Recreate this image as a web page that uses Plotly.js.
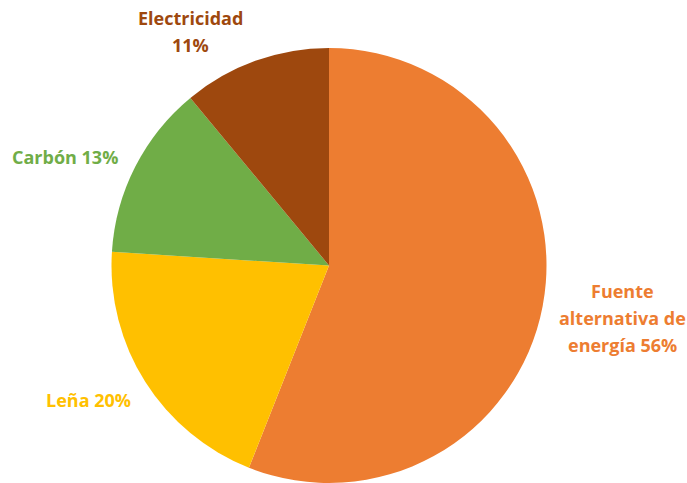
<!DOCTYPE html>
<html>
<head>
<meta charset="utf-8">
<script src="https://cdn.plot.ly/plotly-3.0.1.min.js"></script>
<style>html,body{margin:0;padding:0;background:#fff;}#chart{width:687px;height:483px;}</style>
</head>
<body>
<div id="chart"></div>
<script>
const categories = ["Fuente alternativa de energía", "Leña", "Carbón", "Electricidad"];
const values = [56, 20, 13, 11];
const colors = ["#ED7D31", "#FFC000", "#70AD47", "#9E480E"];
const labelLines = [["Fuente", "alternativa de", "energía 56%"], ["Leña 20%"], ["Carbón 13%"], ["Electricidad", "11%"]];
// label centre (pixels from top-left) of first line, and line spacing
const labelPos = [[622, 291], [88, 400], [65, 157], [190, 18]];
const lineGap = 27;

const W = 687, H = 483;
const cx = 329, cy = 266, r = 218;

const data = [{
  type: "pie",
  labels: categories,
  values: values,
  sort: false,
  direction: "clockwise",
  rotation: 0,
  textinfo: "none",
  hoverinfo: "label+percent",
  marker: {colors: colors, line: {color: "#ffffff", width: 0}},
  domain: {x: [(cx - r) / W, (cx + r) / W], y: [0, (H - (cy - r)) / H]},
  showlegend: false
}];

const annotations = [];
labelLines.forEach((lines, i) => {
  lines.forEach((t, j) => {
    annotations.push({
      text: t,
      x: labelPos[i][0] / W,
      y: 1 - (labelPos[i][1] + j * lineGap) / H,
      xref: "paper", yref: "paper",
      xanchor: "center", yanchor: "middle",
      showarrow: false,
      font: {family: "Open Sans, sans-serif", size: 18, color: colors[i], weight: "bold"}
    });
  });
});

const layout = {
  width: W, height: H,
  margin: {l: 0, r: 0, t: 0, b: 0},
  paper_bgcolor: "#ffffff",
  plot_bgcolor: "#ffffff",
  annotations: annotations
};

Plotly.newPlot("chart", data, layout, {displayModeBar: false, staticPlot: true});
</script>
</body>
</html>
